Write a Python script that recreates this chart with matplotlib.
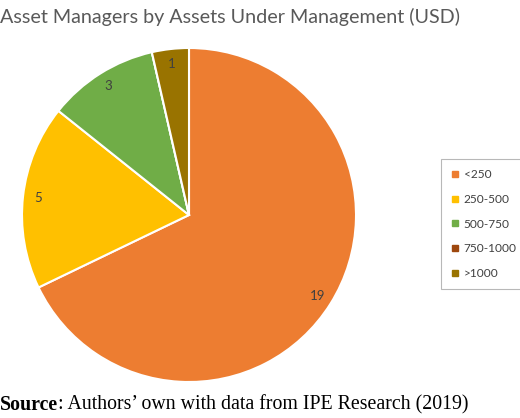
import matplotlib
matplotlib.use("Agg")
import matplotlib.pyplot as plt
from matplotlib.lines import Line2D

# ── Data ──────────────────────────────────────────────────────────────────────
categories = ["<250", "250-500", "500-750", "750-1000", ">1000"]
counts = [19, 5, 3, 0, 1]
colors = ["#ED7D31", "#FFC000", "#70AD47", "#9E480E", "#997300"]

title = "Asset Managers by Assets Under Management (USD)"

plt.rcParams["font.family"] = ["Lato", "DejaVu Sans"]

fig = plt.figure(figsize=(5.2, 4.18), dpi=100)
ax = fig.add_axes([22 / 520, 36 / 418, 334 / 520, 334 / 418])

labels = [str(c) if c > 0 else "" for c in counts]
wedges, texts = ax.pie(counts, colors=colors, startangle=90, counterclock=False,
                       labels=labels, labeldistance=0.91, radius=1,
                       wedgeprops=dict(edgecolor="white", linewidth=1.5),
                       textprops=dict(color="#404040", fontsize=9.5))
for t in texts:
    t.set_horizontalalignment("center")
    t.set_verticalalignment("center")
ax.set_xlim(-1.0, 1.0)
ax.set_ylim(-1.0, 1.0)
ax.set_aspect("equal")

fig.text(0.0, 1 - 17 / 418, title, fontsize=14.2, color="#595959",
         ha="left", va="center")

# ── Legend ────────────────────────────────────────────────────────────────────
handles = [Line2D([], [], marker="s", ls="none", markersize=4.5,
                  markerfacecolor=c, markeredgecolor=c) for c in colors]
leg = fig.legend(handles, categories, loc="upper left",
                 bbox_to_anchor=(441 / 520, 1 - 159 / 418), fontsize=8.6,
                 frameon=True, fancybox=False, edgecolor="#A6A6A6",
                 handlelength=0.6, handletextpad=0.45, labelspacing=1.15,
                 borderpad=0.85, borderaxespad=0)
leg.get_frame().set_linewidth(0.8)
for t in leg.get_texts():
    t.set_color("#404040")

# ── Source line ───────────────────────────────────────────────────────────────
src_kw = dict(fontsize=14.3, family="Liberation Serif", color="black",
              va="center", ha="left")
s1 = fig.text(0.0, 1 - 405 / 418, "Source", fontweight="bold", **src_kw)
fig.canvas.draw()
bb = s1.get_window_extent()
fig.text(bb.x1 / fig.bbox.width, 1 - 405 / 418,
         ": Authors\u2019 own with data from IPE Research (2019)", **src_kw)

fig.savefig("out.png", dpi=100)
